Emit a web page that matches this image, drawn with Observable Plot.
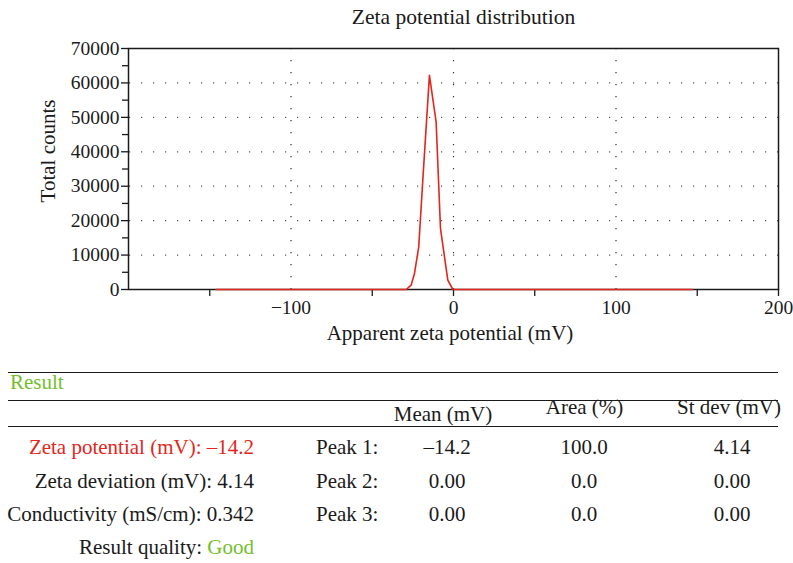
<!DOCTYPE html>
<html>
<head>
<meta charset="utf-8">
<script src="https://cdn.jsdelivr.net/npm/d3@7"></script>
<script src="https://cdn.jsdelivr.net/npm/@observablehq/plot@0.6"></script>
<style>
  html, body { margin: 0; padding: 0; background: #fff; }
  #root { position: relative; width: 793px; height: 563px; overflow: hidden; font-family: 'Liberation Serif', serif; color: #1a1a1a; }
  #root svg { position: absolute; left: 0; top: 0; }
  .t { position: absolute; white-space: nowrap; line-height: 1; }
  .hl { position: absolute; height: 0; border-top: 1.5px solid #1a1a1a; }
</style>
</head>
<body>
<div id="root"></div>
<script>
// ---- Chart data ----
const zetaMv   = [-146, -29.1, -26.1, -24.0, -21.4, -18.9, -14.8, -10.7, -8.0, -3.5, -0.4, 147];
const counts   = [0,     0,     1250,  4650,  12400, 31700, 62200, 48700, 17700, 2700, 0,    0];
const xTickLabels = [-100, 0, 100, 200];
const xTickMarks  = [-150, -50, 0, 50, 150, 200];
const yTickLabels = [0, 10000, 20000, 30000, 40000, 50000, 60000, 70000];
const yMinorTicks = [5000, 15000, 25000, 35000, 45000, 55000, 65000];
const xGrid = [-100, 0, 100];
const yGrid = [10000, 20000, 30000, 40000, 50000, 60000];

const chartTitle = "Zeta potential distribution";
const xLabel = "Apparent zeta potential (mV)";
const yLabel = "Total counts";

// ---- Result table data ----
const resultHeading = "Result";
const columnHeaders = ["Mean (mV)", "Area (%)", "St dev (mV)"];
const summaryLabels = ["Zeta potential (mV):", "Zeta deviation (mV):", "Conductivity (mS/cm):", "Result quality:"];
const summaryValues = ["–14.2", "4.14", "0.342", "Good"];
const peakLabels = ["Peak 1:", "Peak 2:", "Peak 3:"];
const peakMeans  = ["–14.2", "0.00", "0.00"];
const peakAreas  = ["100.0", "0.0", "0.0"];
const peakStdevs = ["4.14", "0.00", "0.00"];

const RED = "#e3261c";
const GREEN = "#72bf2a";

const data = zetaMv.map((mv, i) => ({mv, count: counts[i]}));
const fmt = d => d < 0 ? "−" + Math.abs(d) : String(d);

const svg = Plot.plot({
  width: 793,
  height: 356,
  marginLeft: 128,
  marginRight: 15,
  marginTop: 48,
  marginBottom: 67,
  x: {domain: [-200, 200], label: null},
  y: {domain: [0, 70000], label: null},
  style: {fontFamily: "'Liberation Serif', serif", fontSize: "19.5px", color: "#1a1a1a", background: "transparent", overflow: "visible"},
  marks: [
    Plot.gridX(xGrid, {stroke: "#333", strokeOpacity: 1, strokeWidth: 1.2, strokeDasharray: "1.2,10.8"}),
    Plot.gridY(yGrid, {stroke: "#555", strokeOpacity: 1, strokeWidth: 1.2, strokeDasharray: "1.2,10.8", strokeDashoffset: -13}),
    Plot.axisY(yTickLabels, {tickSize: 7, tickPadding: 2, tickFormat: d => String(d), stroke: "#1a1a1a", strokeWidth: 1.3}),
    Plot.axisY(yMinorTicks, {tickSize: 6, tickFormat: () => "", stroke: "#1a1a1a", strokeWidth: 1.3}),
    Plot.axisX(xTickLabels, {tickSize: 0, tickPadding: 11, tickFormat: fmt}),
    Plot.axisX(xTickMarks, {tickSize: 7, tickFormat: () => "", stroke: "#1a1a1a", strokeWidth: 1.3}),
    Plot.frame({stroke: "#1a1a1a", strokeWidth: 1.5}),
    Plot.line(data, {x: "mv", y: "count", stroke: RED, strokeWidth: 1.6})
  ]
});

const root = document.getElementById("root");
root.appendChild(svg);

const ASC = 0.8375; // baseline offset (em) for Liberation Serif with line-height 1
function txt(html, x, baseline, anchor = "start", size = 21, color = "#1a1a1a") {
  const el = document.createElement("div");
  el.className = "t";
  el.innerHTML = html;
  el.style.fontSize = size + "px";
  el.style.color = color;
  el.style.left = x + "px";
  el.style.top = (baseline - ASC * size) + "px";
  el.style.transform = anchor === "middle" ? "translateX(-50%)" : anchor === "end" ? "translateX(-100%)" : "none";
  root.appendChild(el);
  return el;
}
function hline(y, x1, x2) {
  const el = document.createElement("div");
  el.className = "hl";
  el.style.left = x1 + "px";
  el.style.width = (x2 - x1) + "px";
  el.style.top = (y - 0.75) + "px";
  root.appendChild(el);
}

// Title and axis labels
txt(chartTitle, 463.5, 25, "middle", 21.5);
txt(xLabel, 450, 341, "middle", 21);
const yl = document.createElement("div");
yl.className = "t";
yl.textContent = yLabel;
yl.style.fontSize = "21px";
yl.style.left = "48px";
yl.style.top = "151px";
yl.style.transform = "translate(-50%, -50%) rotate(-90deg)";
root.appendChild(yl);

// Result table
hline(373, 8, 778);
txt(resultHeading, 10, 390, "start", 21, GREEN);
hline(401, 8, 778);
const colX = [443, 584.5, 729];
const headBase = [422, 414.5, 415];
columnHeaders.forEach((h, i) => txt(h, colX[i], headBase[i], "middle", 21));
hline(427, 8, 778);

const rowBase = [454.5, 488.5, 521.5, 555];
summaryLabels.forEach((lab, i) => {
  if (i === 0) txt(lab + " " + summaryValues[i], 254, rowBase[i], "end", 21, RED);
  else if (i === 3) txt(lab + " <span style='color:" + GREEN + "'>" + summaryValues[i] + "</span>", 254, rowBase[i], "end", 21);
  else txt(lab + " " + summaryValues[i], 254, rowBase[i], "end", 21);
});
const valX = [447, 584, 732];
peakLabels.forEach((p, i) => {
  txt(p, 316, rowBase[i], "start", 21);
  txt(peakMeans[i], valX[0], rowBase[i], "middle", 21);
  txt(peakAreas[i], valX[1], rowBase[i], "middle", 21);
  txt(peakStdevs[i], valX[2], rowBase[i], "middle", 21);
});
</script>
</body>
</html>
